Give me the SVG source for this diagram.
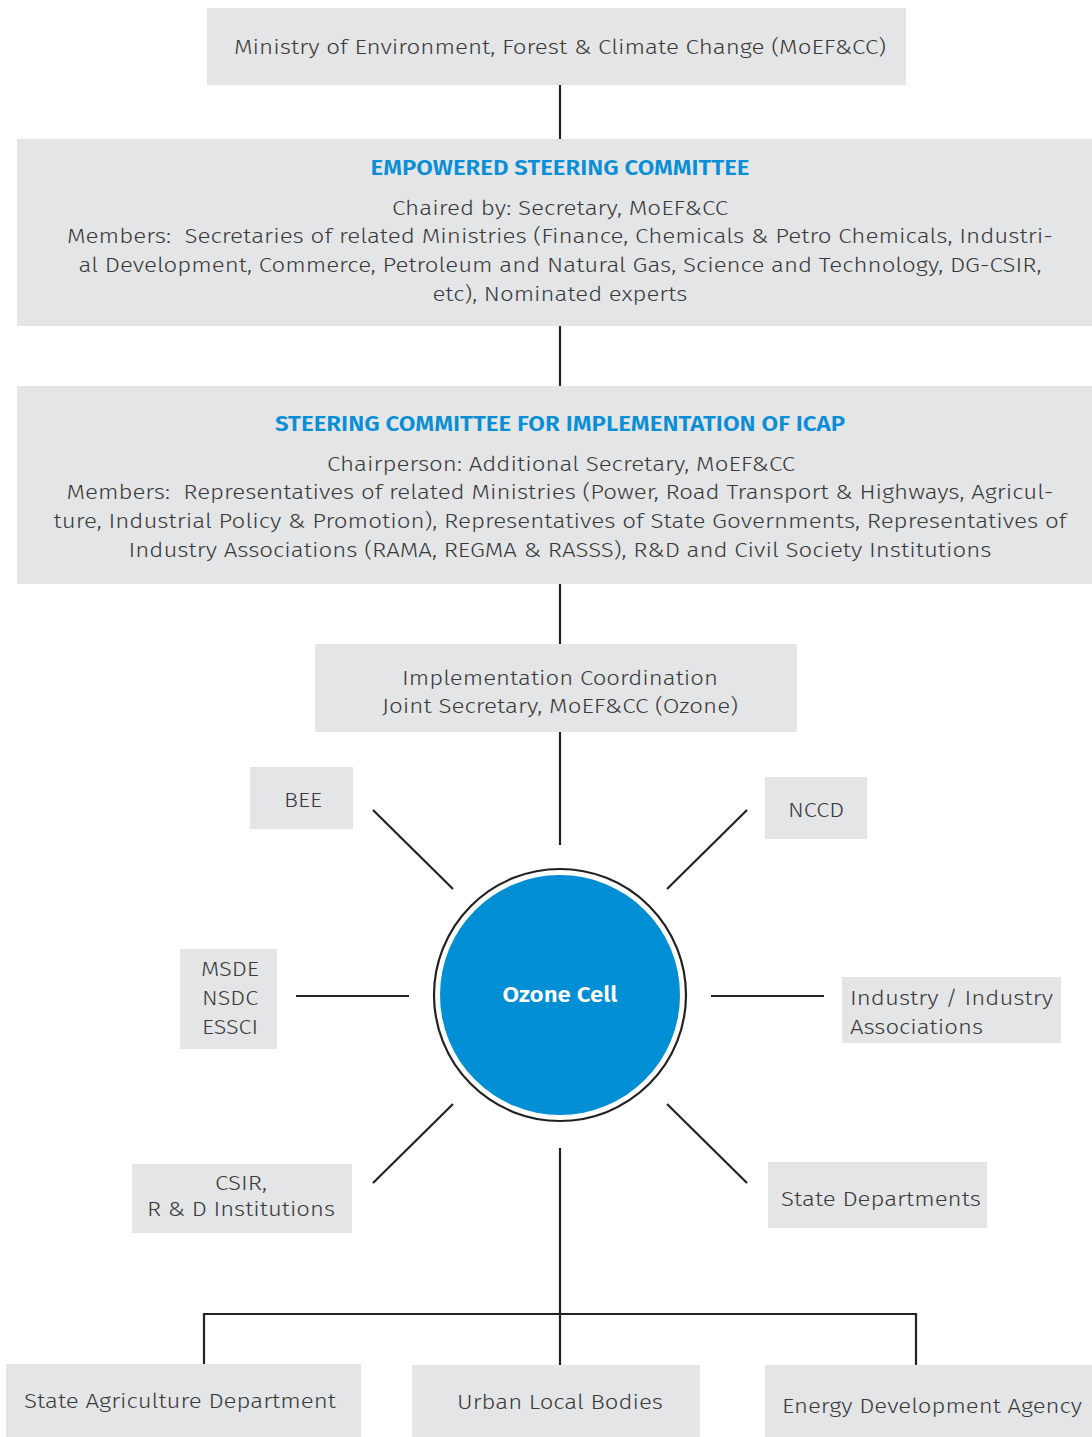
<svg xmlns="http://www.w3.org/2000/svg" width="1092" height="1437" viewBox="0 0 1092 1437">
<style>
.box{fill:#e4e5e7}
.t{font-family:"Fira Sans","Noto Sans","Open Sans",sans-serif;font-weight:300;font-size:21px;fill:#3a3a3a}
.c{text-anchor:middle}
.h{font-family:"Fira Sans","Noto Sans","Open Sans",sans-serif;font-weight:600;font-size:21px;fill:#0a8fd6;text-anchor:middle}
.ln{stroke:#222;stroke-width:2.2;fill:none}
</style>
<rect width="1092" height="1437" fill="#fff"/>
<g id="connectors">
<line class="ln" x1="560" y1="85" x2="560" y2="139"/>
<line class="ln" x1="560" y1="326" x2="560" y2="386"/>
<line class="ln" x1="560" y1="584" x2="560" y2="644"/>
<line class="ln" x1="560" y1="732" x2="560" y2="845"/>
<line class="ln" x1="373" y1="810" x2="453" y2="889"/>
<line class="ln" x1="747" y1="810" x2="667" y2="889"/>
<line class="ln" x1="296" y1="996" x2="409" y2="996"/>
<line class="ln" x1="711" y1="996" x2="824" y2="996"/>
<line class="ln" x1="453" y1="1104" x2="373" y2="1183"/>
<line class="ln" x1="667" y1="1104" x2="747" y2="1183"/>
<line class="ln" x1="560" y1="1148" x2="560" y2="1365"/>
<polyline class="ln" points="204,1365 204,1314 916,1314 916,1365"/>
</g>
<g id="ministry">
<rect class="box" x="207" y="8" width="699" height="77"/>
<text class="t c" x="560" y="54" textLength="652" lengthAdjust="spacingAndGlyphs">Ministry of Environment, Forest &amp; Climate Change (MoEF&amp;CC)</text>
</g>
<g id="empowered">
<rect class="box" x="17" y="139" width="1075" height="187"/>
<text class="h" x="560" y="175" textLength="379" lengthAdjust="spacingAndGlyphs">EMPOWERED STEERING COMMITTEE</text>
<text class="t c" x="560" y="215" textLength="336" lengthAdjust="spacingAndGlyphs">Chaired by: Secretary, MoEF&amp;CC</text>
<text class="t c" x="560" y="243" textLength="986" lengthAdjust="spacingAndGlyphs" xml:space="preserve">Members:  Secretaries of related Ministries (Finance, Chemicals &amp; Petro Chemicals, Industri-</text>
<text class="t c" x="560" y="272" textLength="963" lengthAdjust="spacingAndGlyphs">al Development, Commerce, Petroleum and Natural Gas, Science and Technology, DG-CSIR,</text>
<text class="t c" x="560" y="301" textLength="255" lengthAdjust="spacingAndGlyphs">etc), Nominated experts</text>
</g>
<g id="steering">
<rect class="box" x="17" y="386" width="1075" height="198"/>
<text class="h" x="560" y="431" textLength="570" lengthAdjust="spacingAndGlyphs">STEERING COMMITTEE FOR IMPLEMENTATION OF ICAP</text>
<text class="t c" x="561" y="471" textLength="468" lengthAdjust="spacingAndGlyphs">Chairperson: Additional Secretary, MoEF&amp;CC</text>
<text class="t c" x="560" y="499" textLength="987" lengthAdjust="spacingAndGlyphs" xml:space="preserve">Members:  Representatives of related Ministries (Power, Road Transport &amp; Highways, Agricul-</text>
<text class="t c" x="560" y="528" textLength="1013" lengthAdjust="spacingAndGlyphs">ture, Industrial Policy &amp; Promotion), Representatives of State Governments, Representatives of</text>
<text class="t c" x="560" y="557" textLength="863" lengthAdjust="spacingAndGlyphs">Industry Associations (RAMA, REGMA &amp; RASSS), R&amp;D and Civil Society Institutions</text>
</g>
<g id="coordination">
<rect class="box" x="315" y="644" width="482" height="88"/>
<text class="t c" x="560" y="685" textLength="316" lengthAdjust="spacingAndGlyphs">Implementation Coordination</text>
<text class="t c" x="560" y="713" textLength="356" lengthAdjust="spacingAndGlyphs">Joint Secretary, MoEF&amp;CC (Ozone)</text>
</g>
<g id="ozone-cell">
<circle cx="560" cy="995" r="126" fill="#fff" stroke="#222" stroke-width="2.2"/>
<circle cx="560" cy="995" r="120" fill="#008ed5"/>
<text x="560" y="1002" text-anchor="middle" font-family="'Fira Sans','Noto Sans','Open Sans',sans-serif" font-weight="600" font-size="22" fill="#fff" textLength="115" lengthAdjust="spacingAndGlyphs">Ozone Cell</text>
</g>
<g id="bee">
<rect class="box" x="250" y="767" width="103" height="62"/>
<text class="t c" x="303" y="807" textLength="38" lengthAdjust="spacingAndGlyphs">BEE</text>
</g>
<g id="nccd">
<rect class="box" x="765" y="777" width="102" height="62"/>
<text class="t c" x="816" y="817" textLength="56" lengthAdjust="spacingAndGlyphs">NCCD</text>
</g>
<g id="msde">
<rect class="box" x="180" y="949" width="97" height="100"/>
<text class="t c" x="230" y="976" textLength="58" lengthAdjust="spacingAndGlyphs">MSDE</text>
<text class="t c" x="230" y="1005" textLength="56" lengthAdjust="spacingAndGlyphs">NSDC</text>
<text class="t c" x="230" y="1034" textLength="56" lengthAdjust="spacingAndGlyphs">ESSCI</text>
</g>
<g id="industry">
<rect class="box" x="842" y="977" width="219" height="66"/>
<text class="t" x="850" y="1005" textLength="203" lengthAdjust="spacingAndGlyphs">Industry / Industry</text>
<text class="t" x="850" y="1034" textLength="133" lengthAdjust="spacingAndGlyphs">Associations</text>
</g>
<g id="csir">
<rect class="box" x="132" y="1164" width="220" height="69"/>
<text class="t c" x="241" y="1190" font-size="20" textLength="52" lengthAdjust="spacingAndGlyphs">CSIR,</text>
<text class="t c" x="241" y="1216" font-size="20" textLength="188" lengthAdjust="spacingAndGlyphs">R &amp; D Institutions</text>
</g>
<g id="state-departments">
<rect class="box" x="768" y="1162" width="219" height="66"/>
<text class="t" x="781" y="1206" textLength="200" lengthAdjust="spacingAndGlyphs">State Departments</text>
</g>
<g id="state-agriculture">
<rect class="box" x="6" y="1364" width="355" height="73"/>
<text class="t" x="24" y="1408" textLength="312" lengthAdjust="spacingAndGlyphs">State Agriculture Department</text>
</g>
<g id="urban-local-bodies">
<rect class="box" x="412" y="1365" width="288" height="72"/>
<text class="t c" x="560" y="1409" textLength="206" lengthAdjust="spacingAndGlyphs">Urban Local Bodies</text>
</g>
<g id="energy-agency">
<rect class="box" x="765" y="1365" width="327" height="72"/>
<text class="t" x="782" y="1413" textLength="300" lengthAdjust="spacingAndGlyphs">Energy Development Agency</text>
</g>
</svg>
